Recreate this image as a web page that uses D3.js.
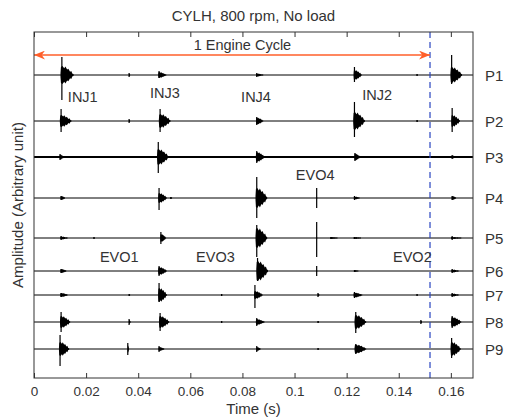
<!DOCTYPE html>
<html>
<head>
<meta charset="utf-8">
<script src="https://cdn.jsdelivr.net/npm/d3@7"></script>
<style>
  body { margin: 0; background: #fff; }
  svg text { font-family: "Liberation Sans", Arial, sans-serif; fill: #333; }
</style>
</head>
<body>
<svg id="chart" width="510" height="419"></svg>
<script>
// trace names and their vertical offsets (arbitrary units)
const traces = ['P1', 'P2', 'P3', 'P4', 'P5', 'P6', 'P7', 'P8', 'P9'];
const offsets = [30.3, 25.7, 22.1, 18.0, 14.0, 10.7, 8.3, 5.6, 2.9];

// bursts per trace: [time (s), peak up, peak down, body length (s), body height]
const bursts = {
  P1: [[0.0107, 1.8, 2.5, 0.0045, 0.9], [0.0365, 0.2, 0.2, 0.0004, 0.15], [0.048, 0.4, 0.3, 0.0028, 0.3],
       [0.0855, 0.2, 0.2, 0.0025, 0.15], [0.123, 0.8, 0.7, 0.0028, 0.5], [0.147, 0.1, 0.1, 0.0003, 0.1],
       [0.1603, 2.0, 0.9, 0.004, 0.8]],
  P2: [[0.0104, 1.2, 1.1, 0.004, 0.6], [0.0365, 0.2, 0.2, 0.0004, 0.15], [0.0484, 1.2, 1.1, 0.004, 0.7],
       [0.0855, 0.4, 0.4, 0.0025, 0.35], [0.123, 1.9, 1.6, 0.004, 0.9], [0.147, 0.1, 0.1, 0.0004, 0.1],
       [0.1605, 1.3, 1.1, 0.003, 0.6]],
  P3: [[0.0100, 0.3, 0.3, 0.0015, 0.25], [0.0477, 1.5, 1.6, 0.004, 0.8], [0.0855, 0.6, 0.6, 0.003, 0.5],
       [0.1232, 0.4, 0.4, 0.002, 0.35], [0.1605, 0.2, 0.2, 0.0015, 0.15]],
  P4: [[0.0104, 0.2, 0.2, 0.0015, 0.2], [0.048, 1.0, 1.2, 0.003, 0.5], [0.0525, 0.1, 0.1, 0.0005, 0.1],
       [0.0855, 2.1, 2.0, 0.004, 1.0], [0.1085, 1.0, 1.0, 0.0002, 0.05], [0.123, 0.2, 0.2, 0.002, 0.15],
       [0.1605, 0.2, 0.2, 0.0015, 0.2]],
  P5: [[0.0104, 0.2, 0.2, 0.0025, 0.15], [0.023, 0.1, 0.1, 0.0003, 0.1], [0.0487, 0.6, 0.6, 0.002, 0.4],
       [0.0855, 1.3, 1.9, 0.004, 1.0], [0.1085, 1.6, 1.9, 0.0002, 0.1], [0.114, 0.1, 0.1, 0.0025, 0.1],
       [0.123, 0.1, 0.1, 0.0025, 0.1], [0.1605, 0.2, 0.2, 0.0035, 0.1]],
  P6: [[0.0104, 0.2, 0.2, 0.002, 0.2], [0.048, 0.5, 0.5, 0.003, 0.4], [0.0858, 1.3, 1.0, 0.004, 1.0],
       [0.1085, 0.5, 0.5, 0.0002, 0.1], [0.123, 0.1, 0.1, 0.0015, 0.1], [0.1605, 0.2, 0.2, 0.0025, 0.15]],
  P7: [[0.0104, 0.2, 0.2, 0.0025, 0.2], [0.0365, 0.1, 0.1, 0.0004, 0.1], [0.048, 1.2, 0.7, 0.003, 0.7],
       [0.072, 0.1, 0.1, 0.0003, 0.1], [0.0848, 1.0, 1.3, 0.003, 0.4], [0.109, 0.2, 0.2, 0.0006, 0.15],
       [0.123, 0.3, 0.3, 0.003, 0.25], [0.147, 0.1, 0.1, 0.0003, 0.1], [0.1605, 0.2, 0.2, 0.0025, 0.15]],
  P8: [[0.0104, 1.0, 1.0, 0.0035, 0.6], [0.0365, 0.3, 0.3, 0.0006, 0.2], [0.0484, 0.9, 0.9, 0.0035, 0.6],
       [0.072, 0.1, 0.1, 0.0003, 0.1], [0.0855, 0.4, 0.4, 0.003, 0.3], [0.109, 0.1, 0.1, 0.0004, 0.1],
       [0.1235, 1.0, 1.1, 0.004, 0.7], [0.1485, 0.2, 0.2, 0.0004, 0.15], [0.1605, 0.6, 0.6, 0.0035, 0.5]],
  P9: [[0.010, 1.4, 1.7, 0.0035, 0.7], [0.036, 0.6, 0.6, 0.0005, 0.4], [0.048, 0.3, 0.3, 0.002, 0.2],
       [0.0855, 0.3, 0.3, 0.0015, 0.2], [0.109, 0.1, 0.1, 0.0003, 0.1], [0.1235, 0.5, 0.5, 0.004, 0.45],
       [0.1603, 1.1, 0.9, 0.0035, 0.7]]
};

// event labels: name, time, level
const eventNames = ['INJ1', 'INJ3', 'INJ4', 'INJ2', 'EVO4', 'EVO1', 'EVO3', 'EVO2'];
const eventTimes = [0.013, 0.0445, 0.0795, 0.126, 0.1005, 0.0253, 0.0622, 0.1378];
const eventLevels = [28.1, 28.5, 28.1, 28.3, 20.3, 12.1, 12.1, 12.1];

const xTicks = [0, 0.02, 0.04, 0.06, 0.08, 0.1, 0.12, 0.14, 0.16];
const cycleEnd = 0.152;
const cycleLevel = 32.3;

const margin = {t: 32, r: 37, b: 41, l: 34};
const width = 510, height = 419;
const w = width - margin.l - margin.r;
const h = height - margin.t - margin.b;

const svg = d3.select('#chart');
const g = svg.append('g').attr('transform', `translate(${margin.l},${margin.t})`);

const scaleX = d3.scaleLinear().domain([0, 0.1685]).range([0, w]);
const scaleY = d3.scaleLinear().domain([0, 34.6]).range([h, 0]);
const unit = scaleY(0) - scaleY(1);

// baselines
g.selectAll('.base')
  .data(traces)
  .join('line')
  .attr('class', 'base')
  .attr('x1', 0).attr('x2', w)
  .attr('y1', (d, i) => scaleY(offsets[i]))
  .attr('y2', (d, i) => scaleY(offsets[i]))
  .attr('stroke', '#000')
  .attr('stroke-width', d => d === 'P3' ? 1.8 : 1);

// burst glyph outline: [fraction of body length, fraction of body height]
const glyph = [[-0.12, 0.2], [-0.08, 0.9], [0.05, 1], [0.2, 0.75], [0.3, 0.95], [0.45, 0.6],
               [0.55, 0.7], [0.7, 0.35], [0.8, 0.45], [0.9, 0.15], [1, 0.1]];

const area = d3.area()
  .x(d => scaleX(d[0]))
  .y0(d => d[2])
  .y1(d => d[1]);

traces.forEach((name, i) => {
  const base = scaleY(offsets[i]);
  const tg = g.append('g').attr('class', 'trace-' + name);
  const data = bursts[name];

  // filled bodies
  tg.selectAll('.body')
    .data(data)
    .join('path')
    .attr('class', 'body')
    .attr('d', b => {
      const [t, up, dn, len, bh] = b;
      const pts = glyph.map(([f, a]) => [t + f * len,
        base - Math.max(a * bh * unit, 0.6), base + Math.max(a * bh * unit, 0.6)]);
      return area(pts);
    })
    .attr('fill', '#000');

  // tall spikes
  tg.selectAll('.spike')
    .data(data)
    .join('line')
    .attr('class', 'spike')
    .attr('x1', b => scaleX(b[0])).attr('x2', b => scaleX(b[0]))
    .attr('y1', b => base - b[1] * unit)
    .attr('y2', b => base + b[2] * unit)
    .attr('stroke', '#000')
    .attr('stroke-width', 1.2);
});

// dashed line at end of the cycle
g.append('line')
  .attr('x1', scaleX(cycleEnd)).attr('x2', scaleX(cycleEnd))
  .attr('y1', 0).attr('y2', h)
  .attr('stroke', '#2a45c0')
  .attr('stroke-width', 1.2)
  .attr('stroke-dasharray', '6,4');

// engine cycle arrow
const defs = svg.append('defs');
['start', 'end'].forEach(k => {
  defs.append('marker')
    .attr('id', 'arrow-' + k)
    .attr('viewBox', '0 0 10 8')
    .attr('refX', k === 'end' ? 10 : 0).attr('refY', 4)
    .attr('markerWidth', 11).attr('markerHeight', 9)
    .attr('markerUnits', 'userSpaceOnUse')
    .attr('orient', 'auto')
    .append('path')
    .attr('d', k === 'end' ? 'M0,0 L10,4 L0,8 L3,4 Z' : 'M10,0 L0,4 L10,8 L7,4 Z')
    .attr('fill', '#ff5f2a');
});
g.append('line')
  .attr('x1', scaleX(0)).attr('x2', scaleX(cycleEnd))
  .attr('y1', scaleY(cycleLevel)).attr('y2', scaleY(cycleLevel))
  .attr('stroke', '#ff5f2a')
  .attr('stroke-width', 1.5)
  .attr('marker-start', 'url(#arrow-start)')
  .attr('marker-end', 'url(#arrow-end)');
g.append('text')
  .attr('x', scaleX(0.08)).attr('y', scaleY(cycleLevel + 1))
  .attr('text-anchor', 'middle').attr('dominant-baseline', 'central')
  .style('font-size', '14.5px')
  .text('1 Engine Cycle');

// event labels
g.selectAll('.event')
  .data(eventNames)
  .join('text')
  .attr('class', 'event')
  .attr('x', (d, i) => scaleX(eventTimes[i]))
  .attr('y', (d, i) => scaleY(eventLevels[i]))
  .attr('dominant-baseline', 'central')
  .style('font-size', '14.5px')
  .text(d => d);

// trace labels on the right
g.selectAll('.tlabel')
  .data(traces)
  .join('text')
  .attr('class', 'tlabel')
  .attr('x', w + 12)
  .attr('y', (d, i) => scaleY(offsets[i]))
  .attr('dominant-baseline', 'central')
  .style('font-size', '15px')
  .text(d => d);

// axes
const fmt = d3.format('~g');
const xAxisB = d3.axisBottom(scaleX).tickValues(xTicks).tickFormat(fmt).tickSizeInner(-5).tickSizeOuter(0).tickPadding(8);
const xAxisT = d3.axisTop(scaleX).tickValues(xTicks).tickFormat('').tickSizeInner(-5).tickSizeOuter(0);

const axB = g.append('g').attr('transform', `translate(0,${h})`).call(xAxisB);
const axT = g.append('g').call(xAxisT);
[axB, axT].forEach(a => {
  a.select('.domain').remove();
  a.selectAll('line').attr('stroke', '#333');
  a.selectAll('text').style('font-size', '13.5px').style('fill', '#333')
    .style('font-family', '"Liberation Sans", Arial, sans-serif');
});

// frame
g.append('rect')
  .attr('width', w).attr('height', h)
  .attr('fill', 'none').attr('stroke', '#333').attr('stroke-width', 1);

// titles
svg.append('text')
  .attr('x', margin.l + w / 2).attr('y', 15)
  .attr('text-anchor', 'middle').attr('dominant-baseline', 'central')
  .style('font-size', '15px')
  .text('CYLH, 800 rpm, No load');
svg.append('text')
  .attr('x', margin.l + w / 2).attr('y', 408)
  .attr('text-anchor', 'middle').attr('dominant-baseline', 'central')
  .style('font-size', '15px')
  .text('Time (s)');
svg.append('text')
  .attr('transform', `translate(17,${margin.t + h / 2}) rotate(-90)`)
  .attr('text-anchor', 'middle').attr('dominant-baseline', 'central')
  .style('font-size', '15px')
  .text('Amplitude (Arbitrary unit)');
</script>
</body>
</html>
